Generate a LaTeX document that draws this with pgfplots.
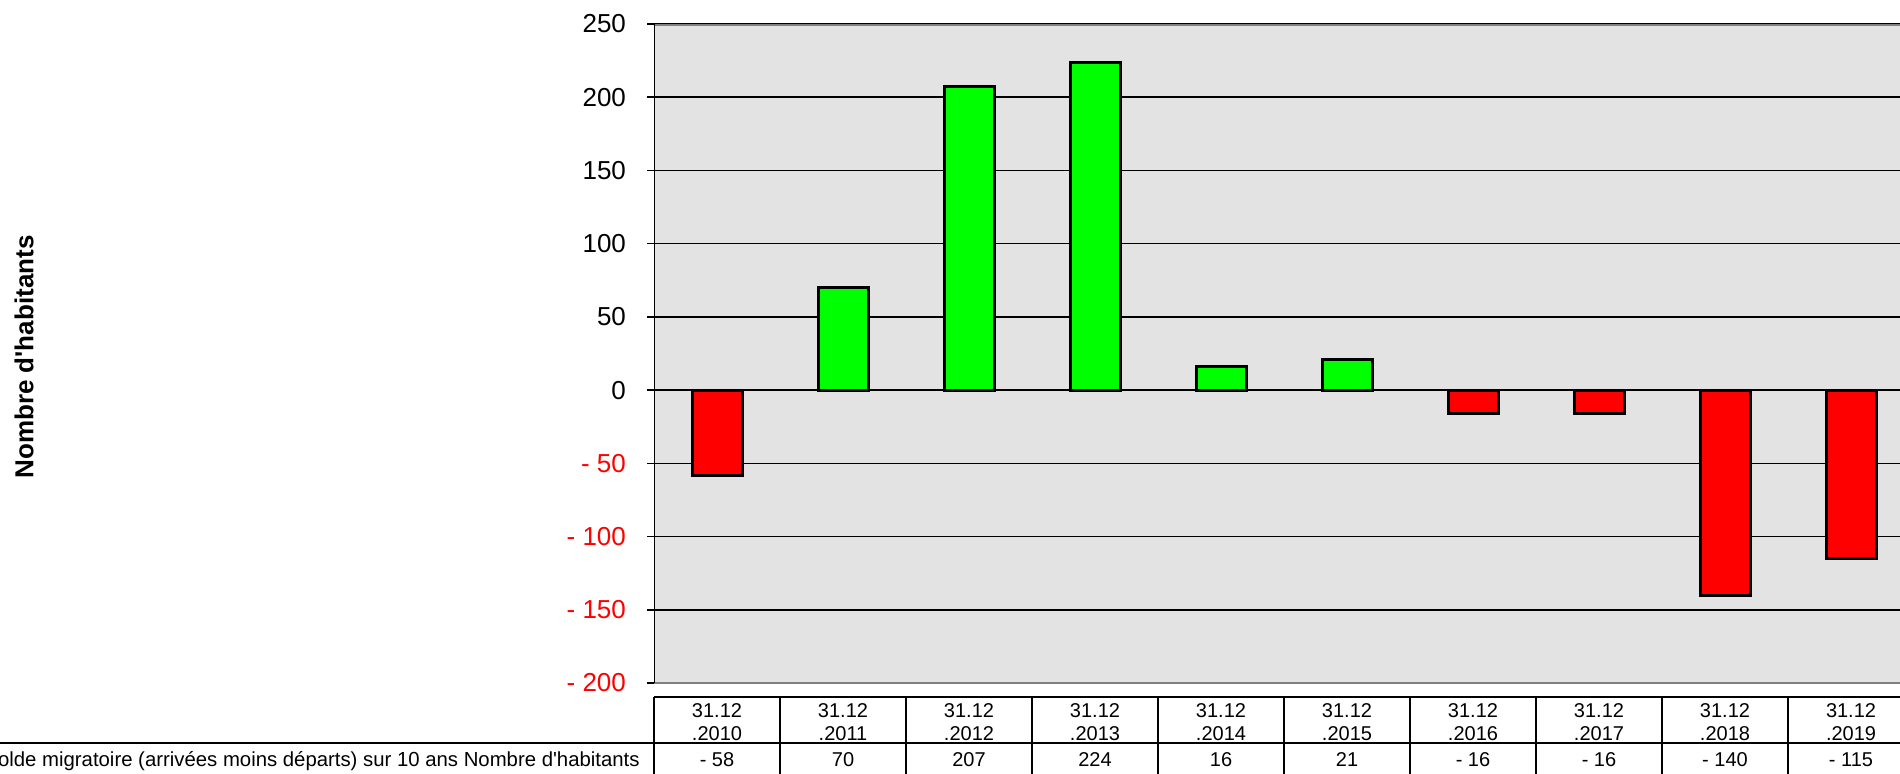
\documentclass[border=0pt]{standalone}
\usepackage{pgfplots}
\pgfplotsset{compat=1.18}
\usepackage{fontspec}
\setmainfont{Liberation Sans}
\definecolor{bgray}{HTML}{E3E3E3}
\definecolor{bordergray}{HTML}{808080}
\definecolor{bargreen}{HTML}{00FF00}
\definecolor{barred}{HTML}{FF0000}
\begin{document}
\begin{tikzpicture}[x=0.5pt,y=0.5pt]
\path[use as bounding box] (0,0) rectangle (1900,773);
\begin{axis}[
  at={(327pt,45pt)}, anchor=south west,
  width=630pt, height=329.5pt, scale only axis,
  xmin=-0.5, xmax=9.5, ymin=-200, ymax=250,
  xtick=\empty,
  ytick={-200,-150,-100,-50,0,50,100,150,200,250},
  yticklabels={\color{red}- 200,\color{red}- 150,\color{red}- 100,\color{red}- 50,0,50,100,150,200,250},
  yticklabel style={font=\fontsize{13}{15}\selectfont, xshift=-7pt},
  ytick pos=left, tick align=outside, major tick length=3.5pt,
  tick style={black, line width=0.75pt},
  ymajorgrids, grid style={black, line width=0.75pt},
  axis line style={draw=none},
  axis background/.style={fill=bgray},
]
\addplot[ybar, bar shift=0pt, bar width=25pt, fill=bargreen, draw=black, line width=1.5pt]
  coordinates {(1,70) (2,207) (3,224) (4,16) (5,21)};
\addplot[ybar, bar shift=0pt, bar width=25pt, fill=barred, draw=black, line width=1.5pt]
  coordinates {(0,-58) (6,-16) (7,-16) (8,-140) (9,-115)};
\draw[bordergray, line width=1.5pt] (rel axis cs:0,1) -- (rel axis cs:1,1);
\draw[bordergray, line width=1.5pt] (rel axis cs:0,0) -- (rel axis cs:1,0);
\draw[black, line width=1.1pt] (rel axis cs:0,0) -- (rel axis cs:0,1);
\end{axis}
% y label
\node[rotate=90, font=\fontsize{13}{15}\selectfont\bfseries] at (24,416) {Nombre d\textquotesingle habitants};
% data table
\draw[black, line width=0.75pt] (654,76) -- (1915,76);
\draw[black, line width=0.75pt] (0,30) -- (1915,30);
\foreach \i in {0,...,10} {
  \draw[black, line width=0.75pt] ({654+126*\i},76) -- ({654+126*\i},-10);
}
\foreach \y/\v [count=\i from 0] in {2010/- 58,2011/70,2012/207,2013/224,2014/16,2015/21,2016/- 16,2017/- 16,2018/- 140,2019/- 115} {
  \node[anchor=base, inner sep=0pt, font=\fontsize{10}{12}\selectfont] at ({717+126*\i},56) {31.12};
  \node[anchor=base, inner sep=0pt, font=\fontsize{10}{12}\selectfont] at ({717+126*\i},33) {.\y};
  \node[anchor=base, inner sep=0pt, font=\fontsize{10}{12}\selectfont] at ({717+126*\i},7) {\v};
}
\node[anchor=base east, inner sep=0pt, font=\fontsize{10.17}{12}\selectfont] at (640,7) {Solde migratoire (arrivées moins départs) sur 10 ans Nombre d\textquotesingle habitants};
\end{tikzpicture}
\end{document}
